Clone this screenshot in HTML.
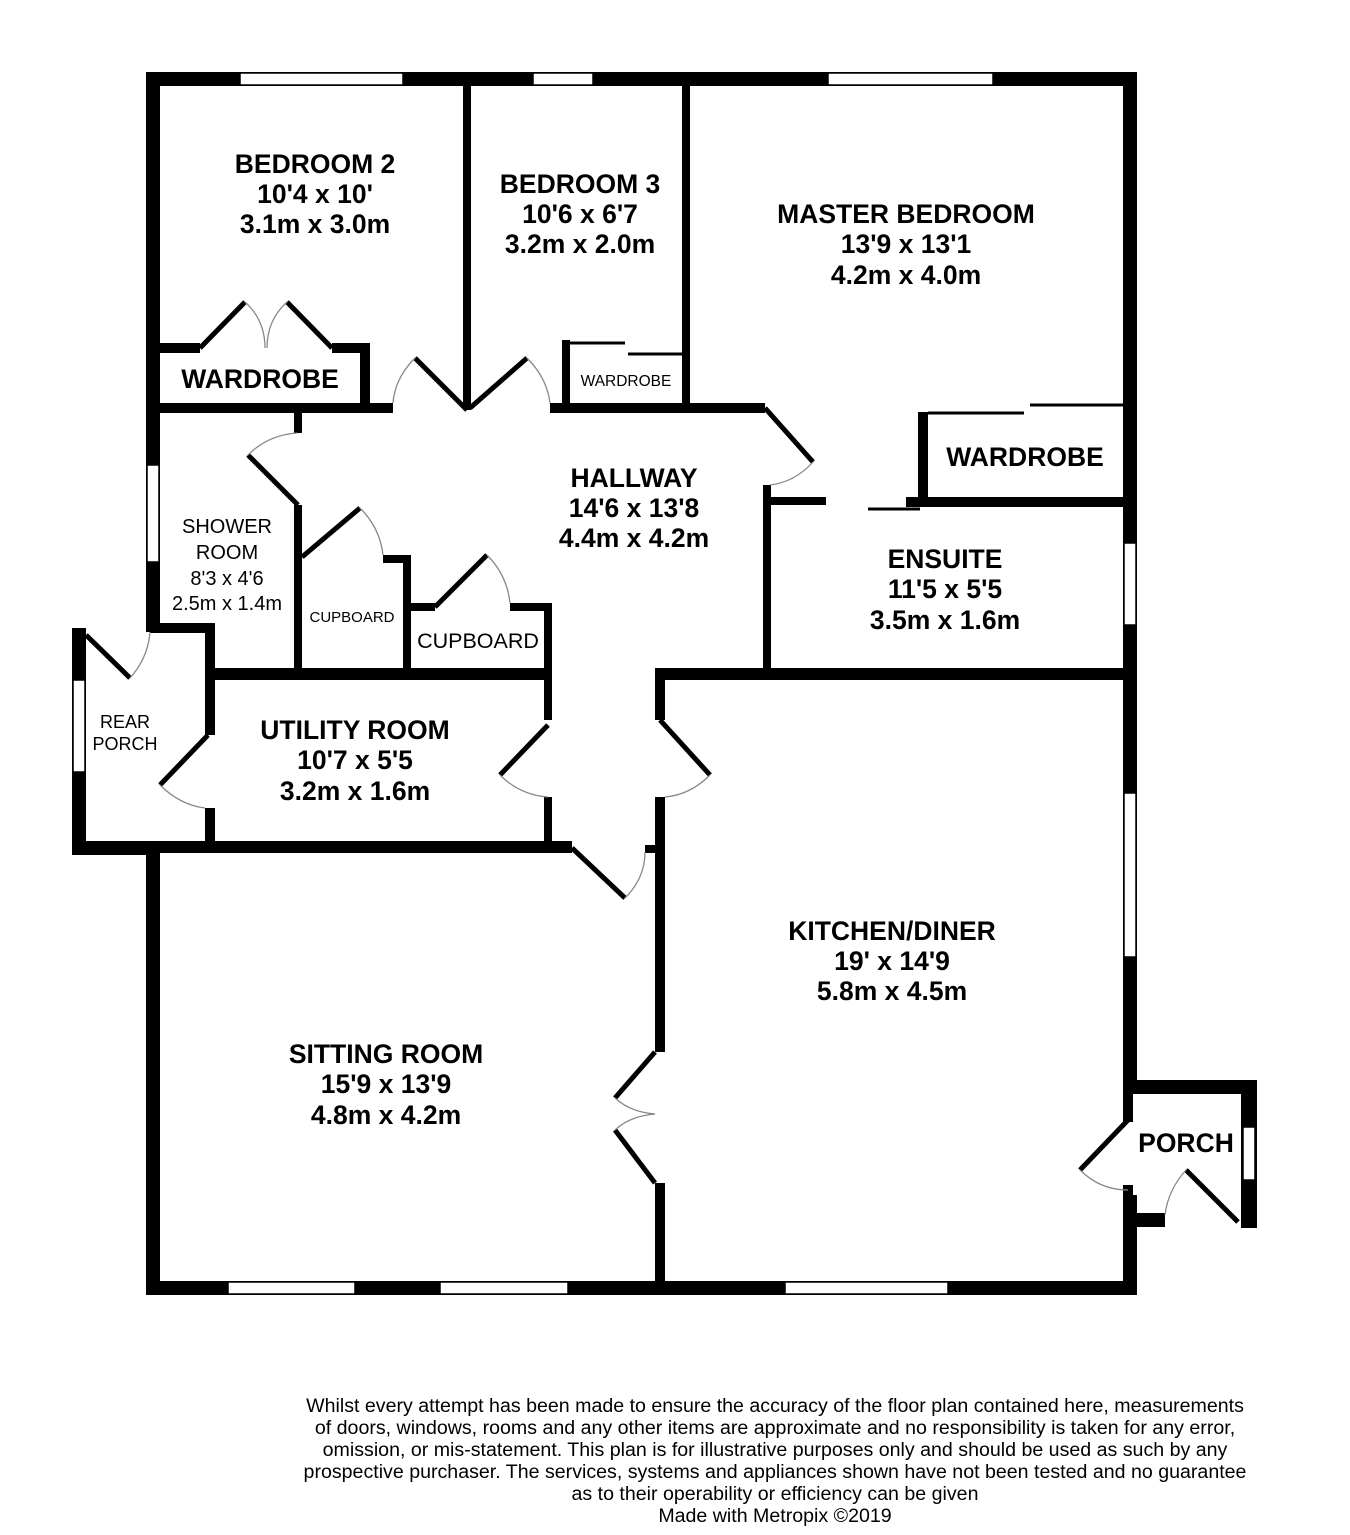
<!DOCTYPE html>
<html><head><meta charset="utf-8"><style>
html,body{margin:0;padding:0;background:#fff;}
svg{display:block}
text{font-family:"Liberation Sans",Arial,sans-serif;fill:#000}
.b{font-weight:bold;font-size:26.5px}
.s{font-size:20px}
.d{font-size:19.6px}
</style></head><body>
<svg width="1350" height="1535" viewBox="0 0 1350 1535" xmlns="http://www.w3.org/2000/svg">
<g fill="#000">
<rect x="146" y="72" width="991" height="14"/>
<rect x="146" y="72" width="14" height="560"/>
<rect x="1123" y="72" width="14" height="1022"/>
<rect x="146" y="841" width="14" height="454"/>
<rect x="146" y="1281" width="991" height="14"/>
<rect x="1123" y="1195" width="14" height="100"/>
<rect x="1123" y="1213" width="42" height="14"/>
<rect x="1123" y="1080" width="134" height="14"/>
<rect x="1241" y="1080" width="16" height="148"/>
<rect x="1123" y="1080" width="10" height="42"/>
<rect x="1123" y="1185" width="10" height="40"/>
<rect x="72" y="628" width="14" height="227"/>
<rect x="72" y="841" width="88" height="14"/>
<rect x="463" y="86" width="8" height="324"/>
<rect x="682" y="86" width="8" height="320"/>
<rect x="160" y="403" width="233" height="10"/>
<rect x="550" y="403" width="215" height="10"/>
<rect x="763" y="485" width="8" height="195"/>
<rect x="763" y="497" width="63" height="8"/>
<rect x="918" y="412" width="10" height="93"/>
<rect x="906" y="497" width="217" height="10"/>
<rect x="655" y="668" width="468" height="12"/>
<rect x="655" y="668" width="10" height="52"/>
<rect x="655" y="797" width="10" height="255"/>
<rect x="645" y="845" width="12" height="8"/>
<rect x="655" y="1183" width="10" height="112"/>
<rect x="160" y="343" width="40" height="10"/>
<rect x="332" y="343" width="38" height="10"/>
<rect x="360" y="343" width="10" height="67"/>
<rect x="562" y="340" width="8" height="66"/>
<rect x="294" y="413" width="8" height="20"/>
<rect x="294" y="505" width="8" height="165"/>
<rect x="383" y="555" width="28" height="8"/>
<rect x="403" y="555" width="8" height="115"/>
<rect x="411" y="603" width="24" height="8"/>
<rect x="510" y="603" width="42" height="8"/>
<rect x="544" y="603" width="8" height="117"/>
<rect x="544" y="797" width="8" height="48"/>
<rect x="150" y="623" width="62" height="10"/>
<rect x="205" y="623" width="10" height="112"/>
<rect x="205" y="808" width="10" height="40"/>
<rect x="205" y="668" width="347" height="12"/>
<rect x="146" y="841" width="426" height="12"/>
</g>
<g fill="#fff" stroke="#000" stroke-width="1.5">
<rect x="240" y="73" width="163" height="12"/>
<rect x="533" y="73" width="60" height="12"/>
<rect x="828" y="73" width="165" height="12"/>
<rect x="147" y="465" width="12" height="97"/>
<rect x="73" y="680" width="12" height="92"/>
<rect x="1124" y="543" width="12" height="82"/>
<rect x="1124" y="793" width="12" height="164"/>
<rect x="1243" y="1127" width="12" height="53"/>
<rect x="228" y="1282" width="127" height="12"/>
<rect x="440" y="1282" width="128" height="12"/>
<rect x="785" y="1282" width="163" height="12"/>
</g>
<g stroke="#000" stroke-width="3">
<line x1="570" y1="343" x2="625" y2="343"/>
<line x1="628" y1="354" x2="682" y2="354"/>
<line x1="928" y1="413" x2="1024" y2="413"/>
<line x1="1030" y1="405" x2="1123" y2="405"/>
<line x1="868" y1="509" x2="920" y2="509"/>
</g>
<g stroke="#000" stroke-width="5" fill="none">
<line x1="200" y1="348" x2="245" y2="302"/>
<line x1="332" y1="348" x2="287" y2="302"/>
<line x1="467" y1="410" x2="415" y2="358"/>
<line x1="470" y1="408" x2="527" y2="358"/>
<line x1="765" y1="408" x2="813" y2="462"/>
<line x1="298" y1="505" x2="248" y2="455"/>
<line x1="302" y1="557" x2="360" y2="508"/>
<line x1="435" y1="607" x2="487" y2="555"/>
<line x1="86" y1="635" x2="130" y2="678"/>
<line x1="208" y1="735" x2="160" y2="785"/>
<line x1="548" y1="725" x2="500" y2="775"/>
<line x1="660" y1="720" x2="710" y2="775"/>
<line x1="572" y1="848" x2="625" y2="898"/>
<line x1="655" y1="1052" x2="615" y2="1098"/>
<line x1="615" y1="1130" x2="655" y2="1183"/>
<line x1="1128" y1="1120" x2="1080" y2="1170"/>
<line x1="1186" y1="1170" x2="1238" y2="1222"/>
</g>
<g stroke="#888" stroke-width="1.3" fill="none">
<path d="M245 302 Q265 320 265 348"/>
<path d="M287 302 Q267 320 267 348"/>
<path d="M415 358 Q395 378 393 403"/>
<path d="M527 358 Q547 378 550 403"/>
<path d="M813 462 Q795 482 770 485"/>
<path d="M248 455 Q268 435 297 433"/>
<path d="M360 508 Q380 528 383 555"/>
<path d="M487 555 Q507 575 510 603"/>
<path d="M130 678 Q148 658 150 632"/>
<path d="M160 785 Q180 805 205 808"/>
<path d="M500 775 Q520 795 548 797"/>
<path d="M710 775 Q690 795 665 797"/>
<path d="M625 898 Q645 878 645 852"/>
<path d="M615 1098 Q630 1112 655 1114"/>
<path d="M615 1130 Q630 1116 655 1114"/>
<path d="M1080 1170 Q1100 1190 1128 1190"/>
<path d="M1186 1170 Q1168 1190 1165 1215"/>
</g>
<g text-anchor="middle">
<text class="b" x="315" y="173">BEDROOM 2</text>
<text class="b" x="315" y="203">10'4 x 10'</text>
<text class="b" x="315" y="233">3.1m x 3.0m</text>
<text class="b" x="580" y="193">BEDROOM 3</text>
<text class="b" x="580" y="223">10'6 x 6'7</text>
<text class="b" x="580" y="253">3.2m x 2.0m</text>
<text class="b" x="906" y="223">MASTER BEDROOM</text>
<text class="b" x="906" y="253">13'9 x 13'1</text>
<text class="b" x="906" y="284">4.2m x 4.0m</text>
<text class="b" x="260" y="388">WARDROBE</text>
<text x="626" y="386" font-size="15.5">WARDROBE</text>
<text class="b" x="1025" y="466">WARDROBE</text>
<text class="b" x="634" y="487">HALLWAY</text>
<text class="b" x="634" y="517">14'6 x 13'8</text>
<text class="b" x="634" y="547">4.4m x 4.2m</text>
<text class="s" x="227" y="533">SHOWER</text>
<text class="s" x="227" y="559">ROOM</text>
<text class="s" x="227" y="585">8'3 x 4'6</text>
<text class="s" x="227" y="610">2.5m x 1.4m</text>
<text x="352" y="622" font-size="15">CUPBOARD</text>
<text x="478" y="648" font-size="21.5">CUPBOARD</text>
<text class="b" x="945" y="568">ENSUITE</text>
<text class="b" x="945" y="598">11'5 x 5'5</text>
<text class="b" x="945" y="629">3.5m x 1.6m</text>
<text x="125" y="728" font-size="18">REAR</text>
<text x="125" y="750" font-size="18">PORCH</text>
<text class="b" x="355" y="739">UTILITY ROOM</text>
<text class="b" x="355" y="769">10'7 x 5'5</text>
<text class="b" x="355" y="800">3.2m x 1.6m</text>
<text class="b" x="892" y="940">KITCHEN/DINER</text>
<text class="b" x="892" y="970">19' x 14'9</text>
<text class="b" x="892" y="1000">5.8m x 4.5m</text>
<text class="b" x="386" y="1063">SITTING ROOM</text>
<text class="b" x="386" y="1093">15'9 x 13'9</text>
<text class="b" x="386" y="1124">4.8m x 4.2m</text>
<text class="b" x="1186" y="1152">PORCH</text>
<text class="d" x="775" y="1412">Whilst every attempt has been made to ensure the accuracy of the floor plan contained here, measurements</text>
<text class="d" x="775" y="1434">of doors, windows, rooms and any other items are approximate and no responsibility is taken for any error,</text>
<text class="d" x="775" y="1456">omission, or mis-statement. This plan is for illustrative purposes only and should be used as such by any</text>
<text class="d" x="775" y="1478">prospective purchaser. The services, systems and appliances shown have not been tested and no guarantee</text>
<text class="d" x="775" y="1500">as to their operability or efficiency can be given</text>
<text class="d" x="775" y="1522">Made with Metropix ©2019</text>
</g>
</svg>
</body></html>
